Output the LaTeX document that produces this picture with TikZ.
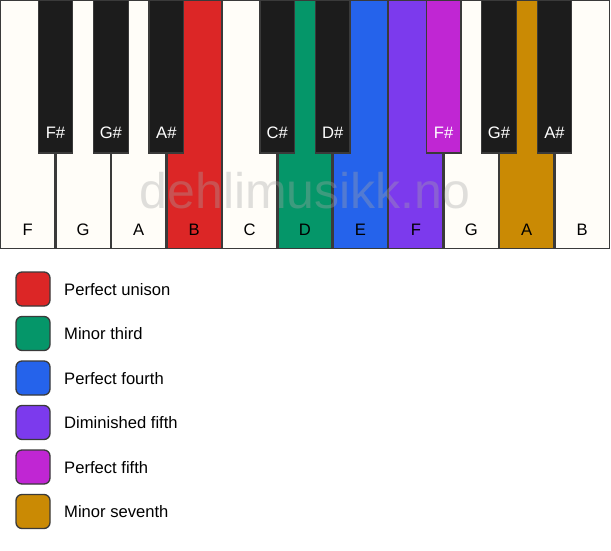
\documentclass[tikz,border=0pt]{standalone}
\usepackage{fontspec}
\setmainfont{Liberation Sans}
\definecolor{keywhite}{HTML}{FFFDF8}
\definecolor{keyblack}{HTML}{1C1C1C}
\definecolor{keyline}{HTML}{3A3A3A}
\definecolor{cunison}{HTML}{DC2626}
\definecolor{cthird}{HTML}{059669}
\definecolor{cfourth}{HTML}{2563EB}
\definecolor{cdim}{HTML}{7C3AED}
\definecolor{cfifth}{HTML}{C026D3}
\definecolor{cseventh}{HTML}{CA8A04}
\begin{document}
\begin{tikzpicture}[x=1pt,y=-1pt,
  whitekey/.style={draw=keyline,line width=1.3pt,fill=keywhite},
  blackkey/.style={draw=keyline,line width=1.3pt,fill=keyblack},
  wlabel/.style={font=\fontsize{16.6}{16.6}\selectfont,text=black},
  blabel/.style={font=\fontsize{16.6}{16.6}\selectfont,text=white},
  swatch/.style={draw=keyline,line width=1.3pt,rounded corners=6pt,minimum width=34pt,minimum height=34pt,inner sep=0pt},
  legtext/.style={font=\fontsize{16.6}{16.6}\selectfont,anchor=west,inner sep=0pt}]
\useasboundingbox (0,0) rectangle (611,550);
\fill[white] (0,0) rectangle (611,550);
% white keys
\def\ww{55.45}
\foreach \i/\n/\c in {0/F/keywhite,1/G/keywhite,2/A/keywhite,3/B/cunison,4/C/keywhite,5/D/cthird,6/E/cfourth,7/F/cdim,8/G/keywhite,9/A/cseventh,10/B/keywhite}{
  \draw[whitekey,fill=\c] ({\i*\ww+0.65},0.65) rectangle ({(\i+1)*\ww-0.65},248.5);
  \node[wlabel] (w\i) at ({(\i+0.5)*\ww},230) {\n};
}
% watermark
\node[font=\fontsize{50}{50}\selectfont,text=black!35,opacity=0.35] (wm) at (305,191) {dehlimusikk.no};
% black keys
\foreach \i/\n/\c in {1/F\#/keyblack,2/G\#/keyblack,3/A\#/keyblack,5/C\#/keyblack,6/D\#/keyblack,8/F\#/cfifth,9/G\#/keyblack,10/A\#/keyblack}{
  \draw[blackkey,fill=\c] ({\i*\ww-17.3},0.65) rectangle ({\i*\ww+17.3},153);
  \node[blabel] (b\i) at ({\i*\ww},133) {\n};
}
% legend
\foreach \k/\c/\t in {0/cunison/Perfect unison,1/cthird/Minor third,2/cfourth/Perfect fourth,3/cdim/Diminished fifth,4/cfifth/Perfect fifth,5/cseventh/Minor seventh}{
  \node[swatch,fill=\c] (s\k) at (33,{289+\k*44.5}) {};
  \node[legtext] (t\k) at (64,{289.5+\k*44.5}) {\t};
}
\end{tikzpicture}
\end{document}
